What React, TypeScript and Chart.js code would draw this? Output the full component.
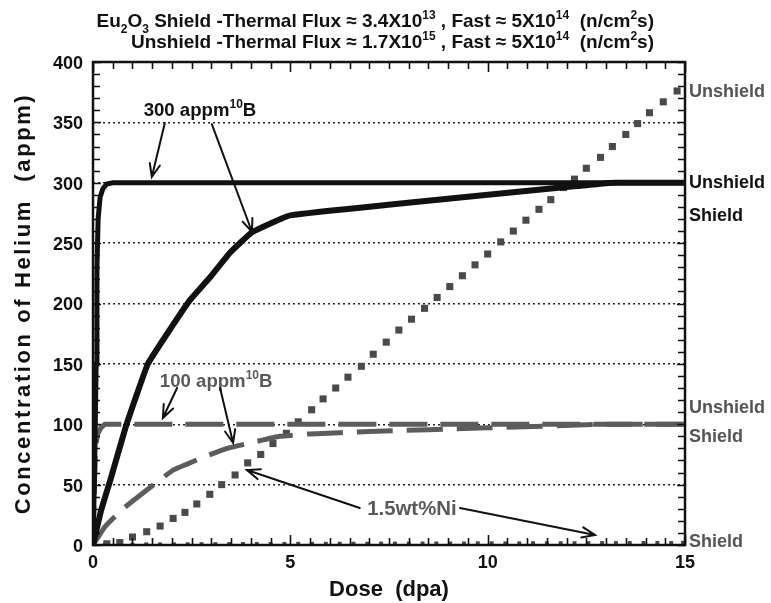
import React, { useEffect, useRef } from 'react';
import { Chart, registerables } from 'chart.js';

Chart.register(...registerables);

const FONT = '"Liberation Sans", Arial, Helvetica, sans-serif';

// ---------- axes ----------
const xTickValues = [0, 5, 10, 15];
const yTickValues = [0, 50, 100, 150, 200, 250, 300, 350, 400];
const xAxisTitle = 'Dose  (dpa)';
const yAxisTitle = 'Concentration of Helium  (appm)';

// ---------- series ----------
const b300UnshieldDose = [0, 0.04, 0.08, 0.1, 0.13, 0.18, 0.25, 0.35, 0.5, 15];
const b300UnshieldHe = [0, 60, 150, 230, 270, 288, 295, 299, 300, 300];

const b300ShieldDose = [0, 0.2, 0.45, 0.85, 1.39, 1.9, 2.46, 3.0, 3.47, 4.03, 5.0, 12.8, 13.3, 15];
const b300ShieldHe = [0, 28, 55, 100, 150, 176, 203, 223, 242, 259, 273, 299, 300, 300];

const b100UnshieldDose = [0, 0.03, 0.06, 0.12, 0.2, 0.3, 15];
const b100UnshieldHe = [0, 40, 80, 92, 97, 100, 100];

const b100ShieldDose = [0, 0.1, 0.3, 0.76, 1.62, 2.03, 2.9, 3.4, 4.05, 4.73, 5.5, 7, 10, 13, 15];
const b100ShieldHe = [0, 5, 15, 30, 52, 62, 74, 80, 85, 90, 92, 94, 97, 100, 100];

const niUnshieldDose = [0, 0.35, 0.68, 1.0, 1.36, 1.7, 2.03, 2.33, 2.63, 2.96, 3.26, 3.6, 3.92, 4.25, 4.56, 4.9, 5.2, 5.54, 5.83, 6.15, 6.46, 6.8, 7.1, 7.43, 7.75, 8.07, 8.4, 8.72, 9.04, 9.36, 9.68, 10.0, 10.33, 10.65, 10.97, 11.3, 11.6, 11.92, 12.2, 12.5, 12.86, 13.16, 13.5, 13.8, 14.1, 14.45, 14.8];
const niUnshieldHe = [0, 1, 2, 6.6, 11, 15.7, 22, 27, 34, 42, 50, 58, 68, 75, 84, 92.5, 102, 112, 121, 130, 139, 148, 158, 168, 178, 187, 196, 205, 214, 223, 232, 241, 251, 260, 269, 278, 286, 296, 303, 312, 321, 330, 340, 349, 358, 367, 376];

const niShieldDose = [0.3, 0.65, 1.0, 1.35, 1.7, 2.05, 2.4, 2.75, 3.1, 3.45, 3.8, 4.15, 4.5, 4.85, 5.2, 5.55, 5.9, 6.25, 6.6, 6.95, 7.3, 7.65, 8.0, 8.35, 8.7, 9.05, 9.4, 9.75, 10.1, 10.45, 10.8, 11.15, 11.5, 11.85, 12.2, 12.55, 12.9, 13.25, 13.6, 13.95, 14.3, 14.65, 14.95];
const niShieldHe = [0.2, 0.3, 0.4, 0.5, 0.5, 0.6, 0.6, 0.7, 0.7, 0.8, 0.8, 0.8, 0.9, 0.9, 1.0, 1.0, 1.0, 1.1, 1.1, 1.1, 1.2, 1.2, 1.2, 1.3, 1.3, 1.3, 1.3, 1.4, 1.4, 1.4, 1.4, 1.5, 1.5, 1.5, 1.5, 1.6, 1.6, 1.6, 1.6, 1.7, 1.7, 1.7, 1.8];

// ---------- text ----------
type Seg = { t: string; k?: 'sup' | 'sub' };

const titleLine1: Seg[] = [
  { t: 'Eu' }, { t: '2', k: 'sub' }, { t: 'O' }, { t: '3', k: 'sub' },
  { t: ' Shield -Thermal Flux \u2248 3.4X10' }, { t: '13', k: 'sup' },
  { t: ' , Fast \u2248 5X10' }, { t: '14', k: 'sup' },
  { t: '  (n/cm' }, { t: '2', k: 'sup' }, { t: 's)' },
];
const titleLine2: Seg[] = [
  { t: 'Unshield -Thermal Flux \u2248 1.7X10' }, { t: '15', k: 'sup' },
  { t: ' , Fast \u2248 5X10' }, { t: '14', k: 'sup' },
  { t: '  (n/cm' }, { t: '2', k: 'sup' }, { t: 's)' },
];

const rightLabelTexts = ['Unshield', 'Unshield', 'Shield', 'Unshield', 'Shield', 'Shield'];
const rightLabelValues = [376.8, 301.4, 273.3, 114.3, 90.3, 4.1];
const rightLabelColors = ['#555555', '#111111', '#111111', '#555555', '#555555', '#555555'];

const BLACK = '#111111';
const GRAY = '#5c5c5c';
const GRAY_TEXT = '#5a5a5a';

const noteTexts: Seg[][] = [
  [{ t: '300 appm' }, { t: '10', k: 'sup' }, { t: 'B' }],
  [{ t: '100 appm' }, { t: '10', k: 'sup' }, { t: 'B' }],
  [{ t: '1.5wt%Ni' }],
];
const noteDose = [2.71, 3.12, 8.08];
const noteHe = [361, 136.6, 30.6];
const noteSizes = [18.6, 18.6, 20.4];
const noteColors = [BLACK, GRAY_TEXT, GRAY_TEXT];

// arrows: [fromDose, fromHe, toDose, toHe]
const arrows: number[][] = [
  [1.82, 349.5, 1.49, 304.8],
  [3.01, 348.6, 4.03, 259.2],
  [2.13, 130, 1.77, 105.2],
  [3.22, 130, 3.55, 84.5],
  [6.76, 30.6, 3.9, 62.1],
  [9.3, 30.6, 12.72, 8.3],
];

function pts(xs: number[], ys: number[]) {
  return xs.map((x, i) => ({ x, y: ys[i] }));
}

function drawRich(ctx: CanvasRenderingContext2D, segs: Seg[], x: number, y: number, align: string, size: number, color: string) {
  const small = Math.round(size * 0.62);
  const widths = segs.map((s) => {
    ctx.font = `bold ${s.k ? small : size}px ${FONT}`;
    return ctx.measureText(s.t).width;
  });
  const total = widths.reduce((a, b) => a + b, 0);
  let cx = align === 'left' ? x : align === 'right' ? x - total : x - total / 2;
  ctx.fillStyle = color;
  ctx.textBaseline = 'alphabetic';
  ctx.textAlign = 'left';
  segs.forEach((s, i) => {
    ctx.font = `bold ${s.k ? small : size}px ${FONT}`;
    const dy = s.k === 'sup' ? -size * 0.4 : s.k === 'sub' ? size * 0.3 : 0;
    ctx.fillText(s.t, cx, y + dy);
    cx += widths[i];
  });
}

const framePlugin = {
  id: 'frameTicks',
  afterDatasetsDraw(chart: any) {
    const { ctx, chartArea: a, scales } = chart;
    const xs = scales.x;
    const ys = scales.y;
    ctx.save();
    ctx.strokeStyle = BLACK;
    ctx.lineWidth = 1.6;
    ctx.beginPath();
    for (let v = 0; v <= 400; v += 10) {
      const py = Math.round(ys.getPixelForValue(v)) + 0.5;
      const len = v % 50 === 0 ? 8 : 7;
      ctx.moveTo(a.left, py); ctx.lineTo(a.left + len, py);
      ctx.moveTo(a.right, py); ctx.lineTo(a.right - len, py);
    }
    for (let k = 0; k <= 30; k++) {
      const v = k * 0.5;
      const px = Math.round(xs.getPixelForValue(v)) + 0.5;
      const len = k % 10 === 0 ? 10 : 7;
      ctx.moveTo(px, a.bottom); ctx.lineTo(px, a.bottom - len);
      ctx.moveTo(px, a.top); ctx.lineTo(px, a.top + len);
    }
    ctx.stroke();
    ctx.lineWidth = 2.5;
    ctx.strokeRect(a.left, a.top, a.right - a.left, a.bottom - a.top);
    ctx.restore();
  },
  afterDraw(chart: any) {
    const { ctx, chartArea: a, scales } = chart;
    const xs = scales.x;
    const ys = scales.y;
    ctx.save();
    // title
    drawRich(ctx, titleLine1, 654, 27, 'right', 19, BLACK);
    drawRich(ctx, titleLine2, 654, 48, 'right', 19, BLACK);
    // y axis title (rotated, letter-spaced)
    ctx.save();
    ctx.translate(30, (a.top + a.bottom) / 2);
    ctx.rotate(-Math.PI / 2);
    ctx.font = `bold 22px ${FONT}`;
    (ctx as any).letterSpacing = '2.6px';
    ctx.fillStyle = BLACK;
    ctx.textAlign = 'center';
    ctx.textBaseline = 'alphabetic';
    ctx.fillText(yAxisTitle, 0, 0);
    ctx.restore();
    // right labels
    rightLabelTexts.forEach((t, i) => {
      const py = ys.getPixelForValue(rightLabelValues[i]);
      drawRich(ctx, [{ t }], a.right + 4, py + 6.5, 'left', 18, rightLabelColors[i]);
    });
    // notes
    noteTexts.forEach((segs, i) => {
      const px = xs.getPixelForValue(noteDose[i]);
      const py = ys.getPixelForValue(noteHe[i]);
      drawRich(ctx, segs, px, py + 6.5, 'center', noteSizes[i], noteColors[i]);
    });
    // arrows
    ctx.strokeStyle = BLACK;
    ctx.lineWidth = 2;
    ctx.lineCap = 'round';
    arrows.forEach((ar) => {
      const x0 = xs.getPixelForValue(ar[0]);
      const y0 = ys.getPixelForValue(ar[1]);
      const x1 = xs.getPixelForValue(ar[2]);
      const y1 = ys.getPixelForValue(ar[3]);
      const ang = Math.atan2(y1 - y0, x1 - x0);
      const hl = 14;
      const ha = 0.38;
      ctx.beginPath();
      ctx.moveTo(x0, y0);
      ctx.lineTo(x1, y1);
      ctx.moveTo(x1 - hl * Math.cos(ang - ha), y1 - hl * Math.sin(ang - ha));
      ctx.lineTo(x1, y1);
      ctx.lineTo(x1 - hl * Math.cos(ang + ha), y1 - hl * Math.sin(ang + ha));
      ctx.stroke();
    });
    ctx.restore();
  },
};

export default function App() {
  const ref = useRef<HTMLCanvasElement | null>(null);

  useEffect(() => {
    if (!ref.current) return;
    const chart = new Chart(ref.current, {
      type: 'line',
      data: {
        datasets: [
          {
            label: '300 appm Unshield',
            data: pts(b300UnshieldDose, b300UnshieldHe),
            borderColor: BLACK, borderWidth: 5, pointRadius: 0, tension: 0,
          },
          {
            label: '300 appm Shield',
            data: pts(b300ShieldDose, b300ShieldHe),
            borderColor: BLACK, borderWidth: 6, pointRadius: 0, tension: 0.1,
          },
          {
            label: '100 appm Unshield',
            data: pts(b100UnshieldDose, b100UnshieldHe),
            borderColor: GRAY, borderWidth: 5, pointRadius: 0, tension: 0,
            borderDash: [38, 13],
          },
          {
            label: '100 appm Shield',
            data: pts(b100ShieldDose, b100ShieldHe),
            borderColor: GRAY, borderWidth: 5, pointRadius: 0, tension: 0.1,
            borderDash: [36, 14],
          },
          {
            label: '1.5wt%Ni Unshield',
            data: pts(niUnshieldDose, niUnshieldHe),
            showLine: false, pointStyle: 'rect', pointRadius: 5,
            backgroundColor: '#4a4a4a', borderWidth: 0,
          },
          {
            label: '1.5wt%Ni Shield',
            data: pts(niShieldDose, niShieldHe),
            showLine: false, pointStyle: 'rect', pointRadius: 2.8,
            backgroundColor: '#4a4a4a', borderWidth: 0,
          },
        ],
      },
      options: {
        responsive: false,
        animation: false,
        devicePixelRatio: 1,
        layout: { padding: { top: 62, right: 86, left: 0, bottom: 0 } },
        plugins: {
          legend: { display: false },
          tooltip: { enabled: false },
          title: { display: false },
        },
        scales: {
          x: {
            type: 'linear',
            min: 0,
            max: 15,
            afterBuildTicks: (s: any) => { s.ticks = xTickValues.map((v) => ({ value: v })); },
            afterFit: (s: any) => { s.height = 58; },
            grid: { display: false, drawTicks: false },
            border: { display: false },
            ticks: {
              font: { family: FONT, size: 18, weight: 'bold' },
              color: BLACK, padding: 7, maxRotation: 0, autoSkip: false,
            },
            title: {
              display: true, text: xAxisTitle, color: BLACK, padding: 0,
              font: { family: FONT, size: 22, weight: 'bold' },
            },
          },
          y: {
            type: 'linear',
            min: 0,
            max: 400,
            afterBuildTicks: (s: any) => { s.ticks = yTickValues.map((v) => ({ value: v })); },
            afterFit: (s: any) => { s.width = 93; },
            grid: {
              drawTicks: false,
              lineWidth: 1.5,
              color: (c: any) => (c.tick && (c.tick.value === 0 || c.tick.value === 400) ? 'rgba(0,0,0,0)' : '#222222'),
            },
            border: { display: false, dash: [2, 3] },
            ticks: {
              font: { family: FONT, size: 18, weight: 'bold' },
              color: BLACK, padding: 10, autoSkip: false, labelOffset: 2,
            },
            title: { display: false, text: yAxisTitle },
          },
        },
      },
      plugins: [framePlugin],
    } as any);
    return () => chart.destroy();
  }, []);

  return (
    <div style={{ position: 'fixed', left: 0, top: 0, width: 771, height: 603, background: '#fff' }}>
      <canvas ref={ref} width={771} height={603} style={{ display: 'block' }} />
    </div>
  );
}
